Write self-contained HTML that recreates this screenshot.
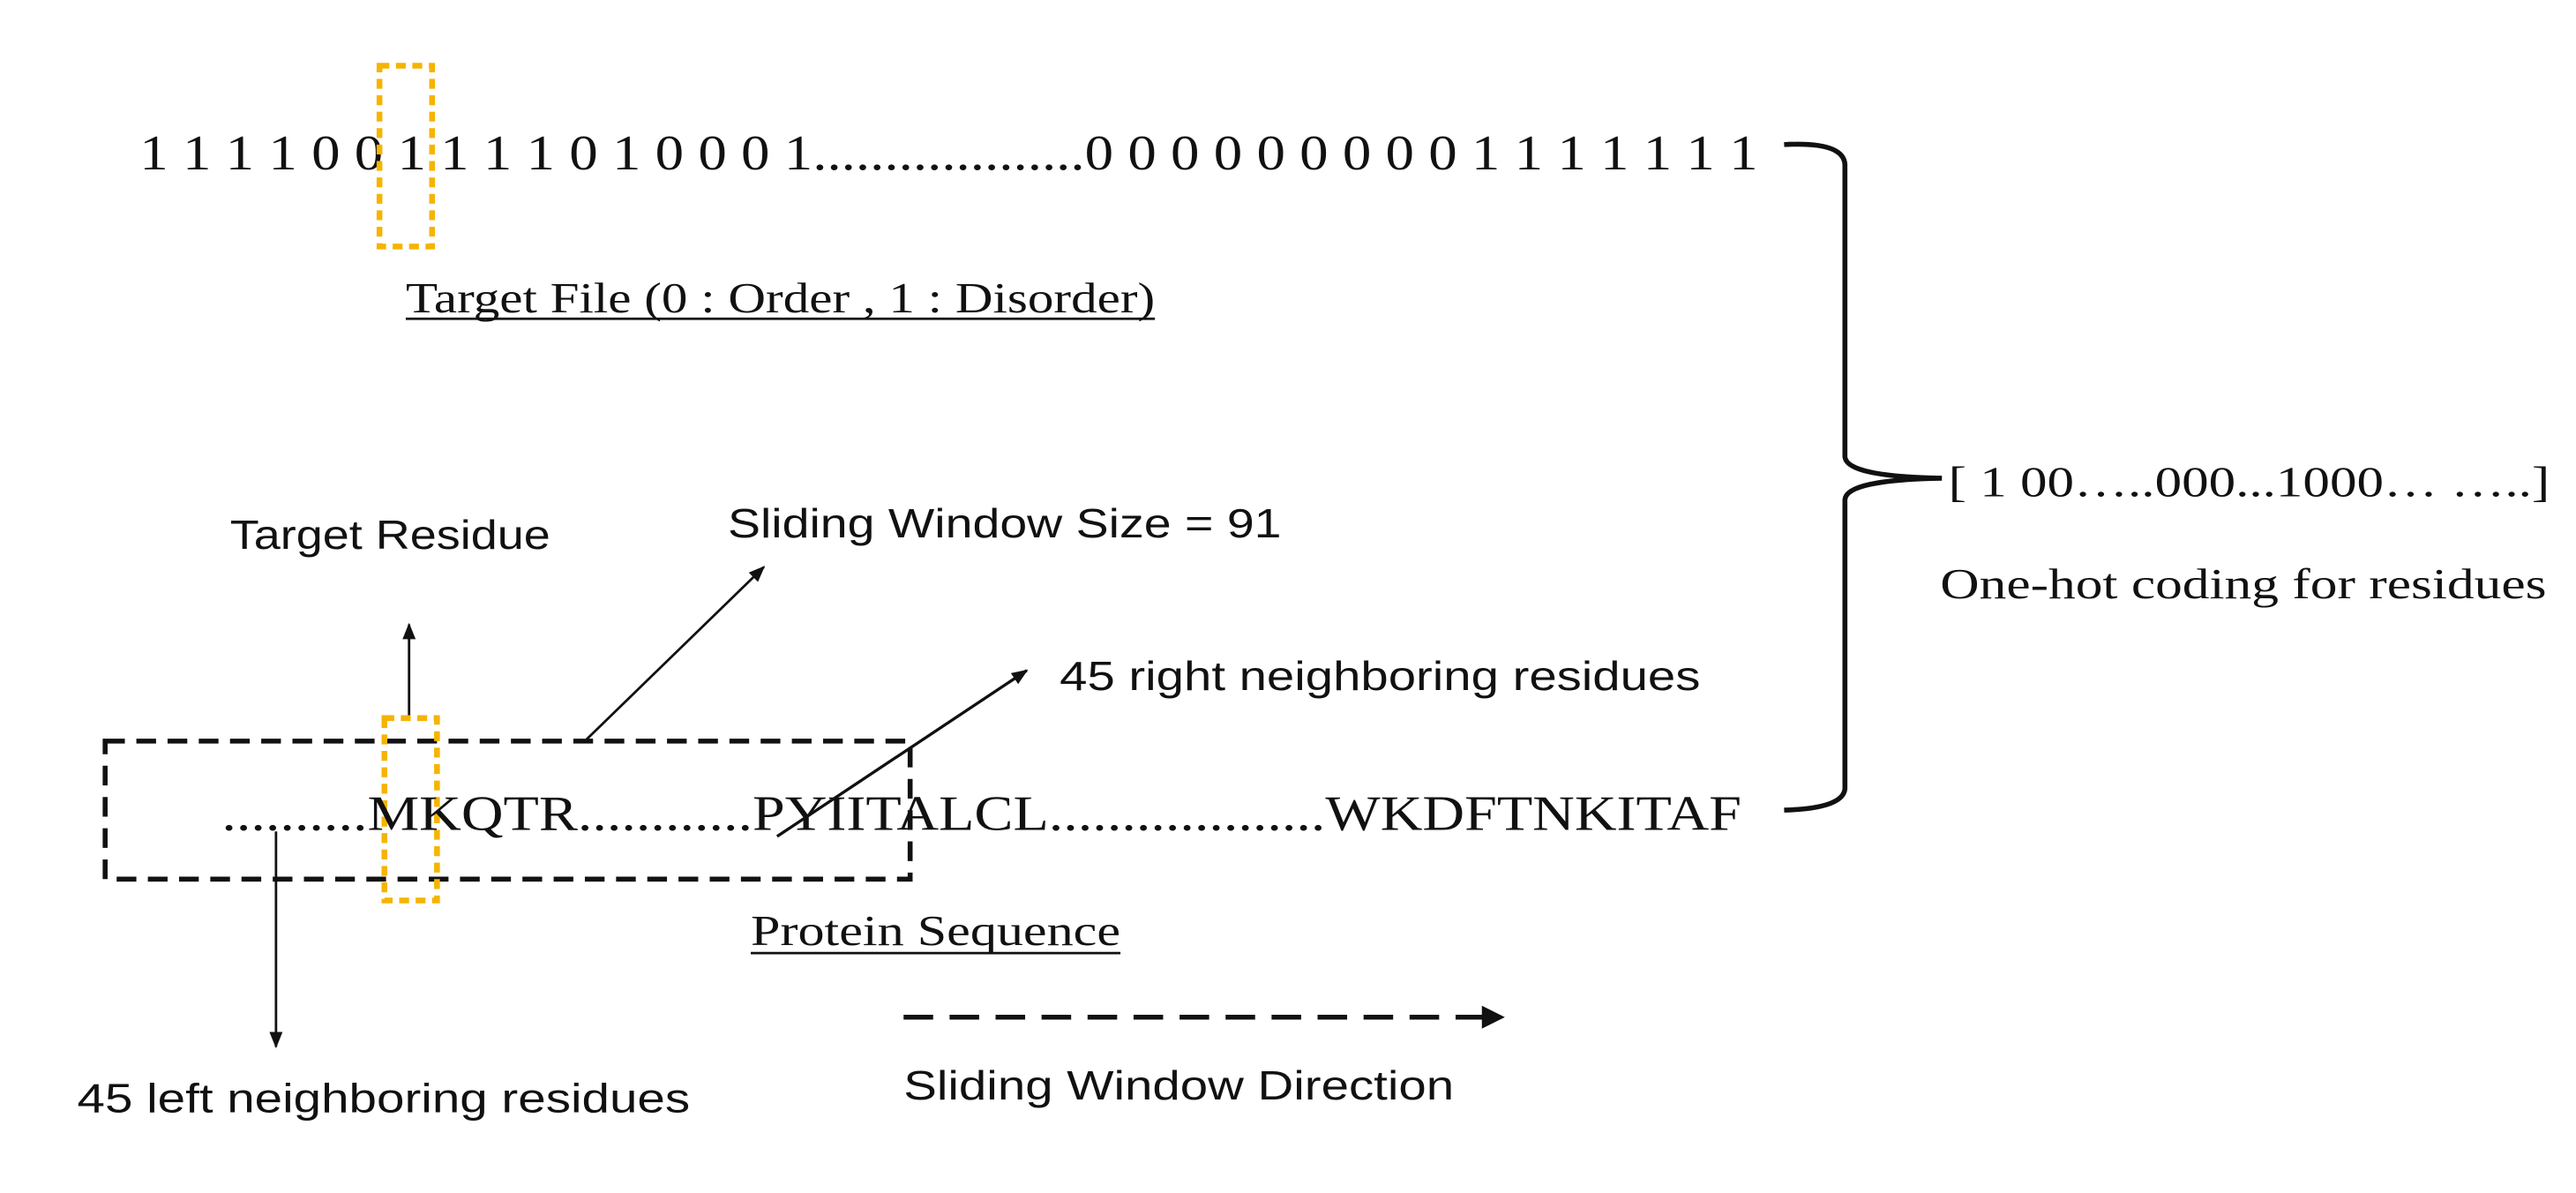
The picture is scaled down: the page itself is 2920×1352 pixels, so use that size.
<!DOCTYPE html>
<html><head><meta charset="utf-8"><style>
html,body{margin:0;padding:0;background:#fff;}
svg{display:block;}
.s{font-family:"Liberation Serif",serif;fill:#111;}
.a{font-family:"Liberation Sans",sans-serif;fill:#111;}
</style></head><body>
<svg width="2920" height="1352" viewBox="0 0 1568 726" xmlns="http://www.w3.org/2000/svg">
<defs>
<marker id="ah" markerWidth="10" markerHeight="10" refX="9" refY="5" orient="auto" markerUnits="userSpaceOnUse" viewBox="0 0 10 10">
<path d="M0,1 L10,5 L0,9 z" fill="#111"/></marker>
</defs>
<text class="s" x="85" y="103" font-size="30" textLength="985" lengthAdjust="spacingAndGlyphs">1 1 1 1 0 0 1 1 1 1 0 1 0 0 0 1...................0 0 0 0 0 0 0 0 0 1 1 1 1 1 1 1</text>
<rect x="231" y="40" width="32" height="110" fill="none" stroke="#f5b400" stroke-width="3.5" stroke-dasharray="6,4"/>
<text class="s" x="247" y="190" font-size="26" textLength="456" lengthAdjust="spacingAndGlyphs">Target File (0 : Order , 1 : Disorder)</text>
<line x1="247" y1="194" x2="703" y2="194" stroke="#111" stroke-width="1.5"/>
<path d="M1086,88 Q1122,86 1123,100 L1123,278 Q1124,290 1182,291 Q1124,292 1123,304 L1123,480 Q1122,492 1086,493" fill="none" stroke="#111" stroke-width="3"/>
<text class="s" x="1186" y="302" font-size="26" textLength="366" lengthAdjust="spacingAndGlyphs">[ 1 00…..000...1000… …..]</text>
<text class="s" x="1181" y="364" font-size="26" textLength="369" lengthAdjust="spacingAndGlyphs">One-hot coding for  residues</text>
<text class="a" x="140" y="334" font-size="25" textLength="195" lengthAdjust="spacingAndGlyphs">Target Residue</text>
<line x1="249" y1="436" x2="249" y2="380" stroke="#111" stroke-width="1.5" marker-end="url(#ah)"/>
<text class="a" x="443" y="327" font-size="25" textLength="337" lengthAdjust="spacingAndGlyphs">Sliding Window  Size = 91</text>
<line x1="357" y1="450" x2="465" y2="345" stroke="#111" stroke-width="1.5" marker-end="url(#ah)"/>
<text class="a" x="645" y="420" font-size="25" textLength="390" lengthAdjust="spacingAndGlyphs">45 right neighboring residues</text>
<line x1="473" y1="509" x2="625" y2="408" stroke="#111" stroke-width="1.8" marker-end="url(#ah)"/>
<rect x="64" y="451" width="490" height="84" fill="none" stroke="#111" stroke-width="3" stroke-dasharray="12,7"/>
<rect x="234" y="437" width="32" height="111" fill="none" stroke="#f5b400" stroke-width="3.5" stroke-dasharray="6,4"/>
<text class="s" x="135" y="505" font-size="30" textLength="925" lengthAdjust="spacingAndGlyphs">..........MKQTR............PYIITALCL...................WKDFTNKITAF</text>
<line x1="168" y1="506" x2="168" y2="637" stroke="#111" stroke-width="1.5" marker-end="url(#ah)"/>
<text class="s" x="457" y="575" font-size="26" textLength="225" lengthAdjust="spacingAndGlyphs">Protein Sequence</text>
<line x1="457" y1="580" x2="682" y2="580" stroke="#111" stroke-width="1.5"/>
<line x1="550" y1="619" x2="905" y2="619" stroke="#111" stroke-width="3" stroke-dasharray="18,10"/>
<path d="M902,612 L916,619 L902,626 z" fill="#111"/>
<text class="a" x="550" y="669" font-size="25" textLength="335" lengthAdjust="spacingAndGlyphs">Sliding Window Direction</text>
<text class="a" x="47" y="677" font-size="25" textLength="373" lengthAdjust="spacingAndGlyphs">45 left neighboring residues</text>
</svg>
</body></html>
